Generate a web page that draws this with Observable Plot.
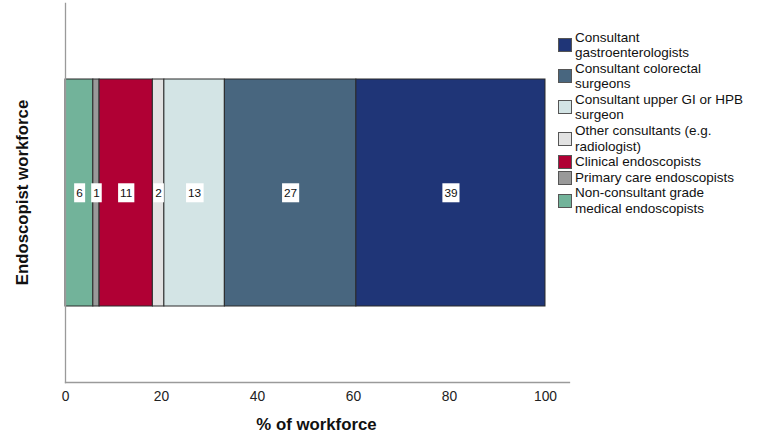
<!DOCTYPE html>
<html>
<head>
<meta charset="utf-8">
<script src="https://cdn.jsdelivr.net/npm/d3@7"></script>
<script src="https://cdn.jsdelivr.net/npm/@observablehq/plot@0.6"></script>
<style>
  html, body { margin: 0; padding: 0; background: #fff; }
  #wrap { position: relative; width: 758px; height: 445px; font-family: "Liberation Sans", Arial, sans-serif; }
  #legend { position: absolute; left: 558px; top: 29.5px; font-size: 13.5px; color: #111; }
  .item { display: flex; align-items: center; margin-bottom: 0; }
  .sw { border: 1px solid #555; margin-right: 3px; flex: none; box-sizing: border-box; width: 14px; height: 14px; }
  .lbl { line-height: 15.6px; white-space: nowrap; }
</style>
</head>
<body>
<div id="wrap"></div>
<script>
// Categories in stacking order (left to right)
const categories = [
  "Non-consultant grade medical endoscopists",
  "Primary care endoscopists",
  "Clinical endoscopists",
  "Other consultants (e.g. radiologist)",
  "Consultant upper GI or HPB surgeon",
  "Consultant colorectal surgeons",
  "Consultant gastroenterologists"
];
// Legend labels (two-line wrapping as in the original)
const legendLabels = [
  "Non-consultant grade<br>medical endoscopists",
  "Primary care endoscopists",
  "Clinical endoscopists",
  "Other consultants (e.g.<br>radiologist)",
  "Consultant upper GI or HPB<br>surgeon",
  "Consultant colorectal<br>surgeons",
  "Consultant<br>gastroenterologists"
];
// Share of workforce (%)
const shares = [5.8, 1.3, 11.1, 2.4, 12.6, 27.4, 39.4];
const colors = ["#72B39A", "#999999", "#B00034", "#E2E2E2", "#D3E4E5", "#48667F", "#1F3577"];
const xTicks = [0, 20, 40, 60, 80, 100];
const barLabel = "Endoscopist workforce";

const data = categories.map((c, i) => ({group: barLabel, category: c, value: shares[i], label: String(Math.round(shares[i]))}));

const plot = Plot.plot({
  width: 758,
  height: 445,
  marginLeft: 65,
  marginRight: 189,
  marginTop: 3,
  marginBottom: 63,
  style: {fontFamily: "'Liberation Sans', Arial, sans-serif", background: "white", overflow: "visible"},
  x: {domain: [0, 105], ticks: xTicks, label: null},
  y: {domain: [barLabel], padding: 0.25, axis: null},
  color: {domain: categories, range: colors},
  marks: [
    Plot.barX(data, Plot.stackX({x: "value", y: "group", fill: "category", order: null, stroke: "#2a2a2a", strokeWidth: 1})),
    Plot.text(data, Plot.stackX({x: "value", y: "group", text: "label", order: null, fill: "#111", fontSize: 11.8, className: "seglabel"})),
    Plot.axisX({ticks: xTicks, tickSize: 0, tickPadding: 9, fontSize: 13.8, color: "#222", label: null}),
    Plot.frame({anchor: "bottom", stroke: "#9a9a9a", strokeWidth: 1.3}),
    Plot.frame({anchor: "left", stroke: "#9a9a9a", strokeWidth: 1.3})
  ]
});

const wrap = document.getElementById("wrap");
wrap.appendChild(plot);

// White boxes behind segment labels
const svgNS = "http://www.w3.org/2000/svg";
plot.querySelectorAll("g.seglabel text").forEach(t => {
  const bb = t.getBBox();
  const r = document.createElementNS(svgNS, "rect");
  const padX = 2, h = 19;
  const cy = bb.y + bb.height / 2;
  r.setAttribute("x", bb.x - padX);
  r.setAttribute("y", cy - h / 2);
  r.setAttribute("width", bb.width + 2 * padX);
  r.setAttribute("height", h);
  r.setAttribute("fill", "white");
  if (t.getAttribute("transform")) r.setAttribute("transform", t.getAttribute("transform"));
  t.parentNode.insertBefore(r, t);
});

// Axis titles
const yTitle = document.createElementNS(svgNS, "text");
yTitle.setAttribute("transform", "translate(28,192.5) rotate(-90)");
yTitle.setAttribute("text-anchor", "middle");
yTitle.setAttribute("font-weight", "bold");
yTitle.setAttribute("font-size", "16.8");
yTitle.setAttribute("fill", "#111");
yTitle.textContent = barLabel;
plot.appendChild(yTitle);

const xTitle = document.createElementNS(svgNS, "text");
xTitle.setAttribute("x", 316.5);
xTitle.setAttribute("y", 430);
xTitle.setAttribute("text-anchor", "middle");
xTitle.setAttribute("font-weight", "bold");
xTitle.setAttribute("font-size", "16.8");
xTitle.setAttribute("fill", "#111");
xTitle.textContent = "% of workforce";
plot.appendChild(xTitle);

// Legend (reverse order: top = last stacked)
const legend = document.createElement("div");
legend.id = "legend";
for (let i = categories.length - 1; i >= 0; i--) {
  const item = document.createElement("div");
  item.className = "item";
  item.innerHTML = `<div class="sw" style="background:${colors[i]}"></div><div class="lbl">${legendLabels[i]}</div>`;
  legend.appendChild(item);
}
wrap.appendChild(legend);
</script>
</body>
</html>
